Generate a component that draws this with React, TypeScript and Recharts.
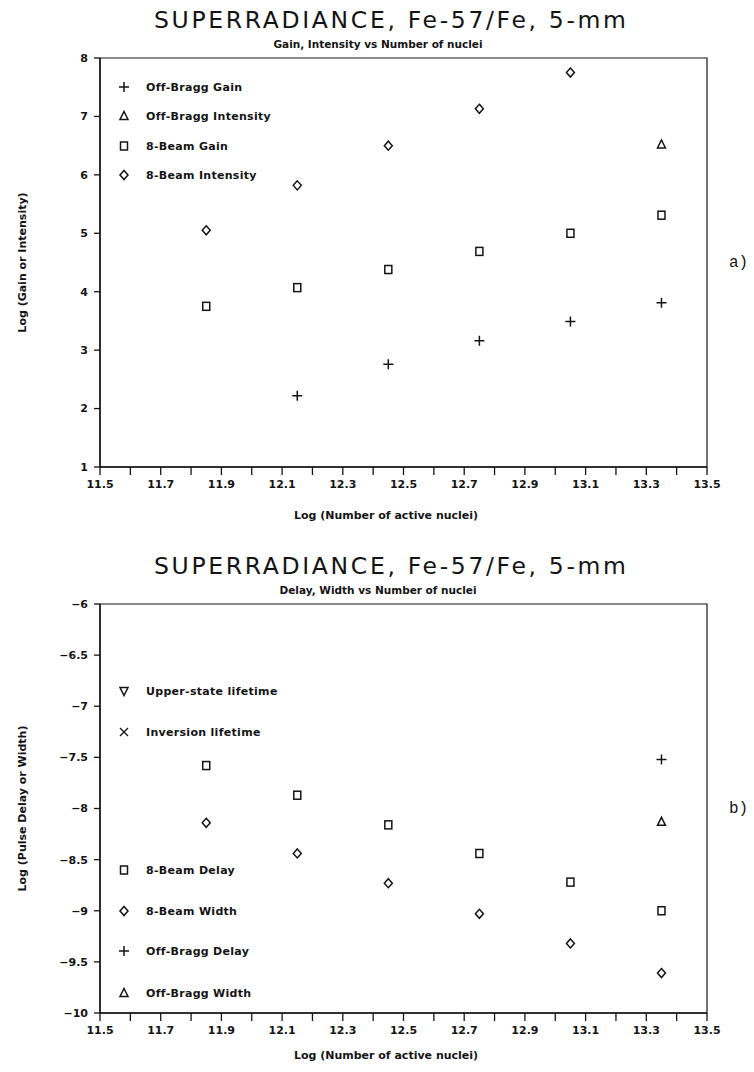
import React from "react";
import { ScatterChart, Scatter, XAxis, YAxis, ReferenceArea, Legend } from "recharts";

// x positions (log of number of active nuclei)
const nuclei = [11.85, 12.15, 12.45, 12.75, 13.05, 13.35];
const xTicks = [11.5, 11.6, 11.7, 11.8, 11.9, 12.0, 12.1, 12.2, 12.3, 12.4, 12.5, 12.6, 12.7, 12.8, 12.9, 13.0, 13.1, 13.2, 13.3, 13.4, 13.5];
const xTickLabels = ["11.5", "11.7", "11.9", "12.1", "12.3", "12.5", "12.7", "12.9", "13.1", "13.3", "13.5"];

// panel a) gain / intensity
const gainTicks = [1, 2, 3, 4, 5, 6, 7, 8];
const offBraggGain = [2.22, 2.76, 3.16, 3.49, 3.81]; // nuclei[1..5]
const offBraggIntensity = [6.52]; // nuclei[5]
const beamGain = [3.75, 4.07, 4.38, 4.69, 5.0, 5.31];
const beamIntensity = [5.05, 5.82, 6.5, 7.13, 7.75]; // nuclei[0..4]

// panel b) delay / width
const delayTicks = [-10, -9.5, -9, -8.5, -8, -7.5, -7, -6.5, -6];
const beamDelay = [-7.58, -7.87, -8.16, -8.44, -8.72, -9.0];
const beamWidth = [-8.14, -8.44, -8.73, -9.03, -9.32, -9.61];
const offBraggDelay = [-7.52]; // nuclei[5]
const offBraggWidth = [-8.13]; // nuclei[5]

const legendA = [
  { label: "Off-Bragg Gain", shape: "plus" },
  { label: "Off-Bragg Intensity", shape: "tri" },
  { label: "8-Beam Gain", shape: "square" },
  { label: "8-Beam Intensity", shape: "diamond" },
];
const legendB = [
  { label: "Upper-state lifetime", shape: "tridown" },
  { label: "Inversion lifetime", shape: "cross" },
  { label: "8-Beam Delay", shape: "square" },
  { label: "8-Beam Width", shape: "diamond" },
  { label: "Off-Bragg Delay", shape: "plus" },
  { label: "Off-Bragg Width", shape: "tri" },
];

const INK = "#141414";
const FONT = "'DejaVu Sans', sans-serif";
const W = 754;
const H = 540;
const PLOT_L = 100;
const PLOT_R = 707;
const PLOT_T = 58;
const PLOT_B = 467;
const YAXIS_W = 40;
const XAXIS_H = 30;

const pts = (xs: number[], ys: number[]) => ys.map((y, i) => ({ x: xs[i], y }));

function Mark({ kind, cx, cy }: { kind: string; cx: number; cy: number }) {
  const common = { stroke: INK, strokeWidth: 1.5, fill: "none" };
  switch (kind) {
    case "plus":
      return <path d={`M${cx - 5},${cy}H${cx + 5}M${cx},${cy - 5}V${cy + 5}`} {...common} />;
    case "cross":
      return <path d={`M${cx - 4},${cy - 4}L${cx + 4},${cy + 4}M${cx + 4},${cy - 4}L${cx - 4},${cy + 4}`} {...common} strokeWidth={1.3} />;
    case "square":
      return <rect x={cx - 3.5} y={cy - 4} width={7} height={8} {...common} />;
    case "diamond":
      return <path d={`M${cx},${cy - 4.5}L${cx + 4},${cy}L${cx},${cy + 4.5}L${cx - 4},${cy}Z`} {...common} />;
    case "tri":
      return <path d={`M${cx},${cy - 4.5}L${cx + 4},${cy + 3.5}L${cx - 4},${cy + 3.5}Z`} {...common} />;
    case "tridown":
      return <path d={`M${cx},${cy + 4.5}L${cx + 4},${cy - 3.5}L${cx - 4},${cy - 3.5}Z`} {...common} />;
    default:
      return null;
  }
}

const shapeOf = (kind: string) => (p: any) => <Mark kind={kind} cx={p.cx} cy={p.cy} />;

const XTick = (p: any) => {
  const v = Number(p.payload.value).toFixed(1);
  if (!xTickLabels.includes(v)) return null;
  return (
    <text x={p.x} y={p.y} dy="0.71em" textAnchor="middle" fontFamily={FONT} fontWeight="bold" fontSize={11} fill={INK}>
      {v}
    </text>
  );
};

type Series = { data: { x: number; y: number }[]; shape: string };

function Panel({
  top, title, subtitle, yLabel, yDomain, yTicks, yFmt, series, legend, legendRows, tag, xLabelGap,
}: {
  top: number; title: string; subtitle: string; yLabel: string; yDomain: [number, number]; yTicks: number[];
  yFmt: (v: number) => string; series: Series[]; legend: { label: string; shape: string }[]; legendRows: number[];
  tag: string; xLabelGap: number;
}) {
  return (
    <div style={{ position: "absolute", left: 0, top, width: W, height: H }}>
      <svg width={W} height={60} style={{ position: "absolute", left: 0, top: 0 }}>
        <text x={390} y={28} textAnchor="middle" fontFamily={FONT} fontSize={23.5} fill={INK} textLength={472} lengthAdjust="spacing">
          {title}
        </text>
        <text x={378} y={48} textAnchor="middle" fontFamily={FONT} fontWeight="bold" fontSize={10.5} fill={INK}>
          {subtitle}
        </text>
      </svg>
      <div style={{ position: "absolute", left: 729, top: PLOT_T + (PLOT_B - PLOT_T) * 0.48, fontFamily: "'Liberation Mono', monospace", fontSize: 16, color: INK }}>
        {tag}
      </div>
      <ScatterChart
        width={W}
        height={H}
        margin={{ top: PLOT_T, right: W - PLOT_R, left: PLOT_L - YAXIS_W, bottom: H - PLOT_B - XAXIS_H }}
        style={{ position: "absolute", left: 0, top: 0 }}
      >
        <XAxis
          type="number"
          dataKey="x"
          domain={[11.5, 13.5]}
          ticks={xTicks}
          interval={0}
          height={XAXIS_H}
          tickSize={8}
          tickMargin={5}
          tick={XTick}
          axisLine={{ stroke: INK, strokeWidth: 1.4 }}
          tickLine={{ stroke: INK, strokeWidth: 1.3 }}
          label={{
            content: (p: any) => (
              <text
                x={386}
                y={p.viewBox.y + xLabelGap}
                textAnchor="middle"
                fontFamily={FONT}
                fontWeight="bold"
                fontSize={11}
                fill={INK}
              >
                Log (Number of active nuclei)
              </text>
            ),
          }}
        />
        <YAxis
          type="number"
          dataKey="y"
          domain={yDomain}
          ticks={yTicks}
          interval={0}
          width={YAXIS_W}
          tickSize={6}
          tickMargin={6}
          tickFormatter={yFmt}
          tick={{ fontFamily: FONT, fontWeight: "bold", fontSize: 11, fill: INK }}
          axisLine={{ stroke: INK, strokeWidth: 1.4 }}
          tickLine={{ stroke: INK, strokeWidth: 1.3 }}
          label={{
            content: (p: any) => {
              const cx = 22;
              const cy = p.viewBox.y + p.viewBox.height / 2;
              return (
                <text
                  x={cx}
                  y={cy}
                  transform={`rotate(-90 ${cx} ${cy})`}
                  textAnchor="middle"
                  dominantBaseline="central"
                  fontFamily={FONT}
                  fontWeight="bold"
                  fontSize={11}
                  fill={INK}
                >
                  {yLabel}
                </text>
              );
            },
          }}
        />
        <ReferenceArea x1={11.5} x2={13.5} y1={yDomain[0]} y2={yDomain[1]} fill="none" stroke={INK} strokeWidth={1.2} />
        {series.map((s, i) => (
          <Scatter key={i} data={s.data} shape={shapeOf(s.shape)} isAnimationActive={false} />
        ))}
        <Legend
          layout="vertical"
          align="center"
          verticalAlign="middle"
          width={W}
          height={H}
          wrapperStyle={{ left: 0, top: 0, width: W, height: H, pointerEvents: "none" }}
          content={() => (
            <svg width={W} height={H} style={{ position: "absolute", left: 0, top: 0 }}>
              {legend.map((e, i) => (
                <g key={e.label}>
                  <Mark kind={e.shape} cx={124} cy={legendRows[i]} />
                  <text
                    x={146}
                    y={legendRows[i]}
                    dominantBaseline="central"
                    fontFamily={FONT}
                    fontWeight="bold"
                    fontSize={11}
                    letterSpacing={0.3}
                    fill={INK}
                  >
                    {e.label}
                  </text>
                </g>
              ))}
            </svg>
          )}
        />
      </ScatterChart>
    </div>
  );
}

const fmtMinus = (v: number) => String(v).replace("-", "\u2212");

export default function App() {
  const seriesA: Series[] = [
    { data: pts(nuclei.slice(1), offBraggGain), shape: "plus" },
    { data: pts(nuclei.slice(5), offBraggIntensity), shape: "tri" },
    { data: pts(nuclei, beamGain), shape: "square" },
    { data: pts(nuclei, beamIntensity), shape: "diamond" },
  ];
  const seriesB: Series[] = [
    { data: pts(nuclei, beamDelay), shape: "square" },
    { data: pts(nuclei, beamWidth), shape: "diamond" },
    { data: pts(nuclei.slice(5), offBraggDelay), shape: "plus" },
    { data: pts(nuclei.slice(5), offBraggWidth), shape: "tri" },
  ];
  return (
    <div style={{ position: "absolute", left: 0, top: 0, width: W, height: 1072, background: "#fff" }}>
      <Panel
        top={0}
        title="SUPERRADIANCE, Fe-57/Fe, 5-mm"
        subtitle="Gain, Intensity vs Number of nuclei"
        yLabel="Log (Gain or Intensity)"
        yDomain={[1, 8]}
        yTicks={gainTicks}
        yFmt={(v) => String(v)}
        series={seriesA}
        legend={legendA}
        legendRows={[87, 116, 146, 175]}
        tag="a)"
        xLabelGap={52}
      />
      <Panel
        top={546}
        title="SUPERRADIANCE, Fe-57/Fe, 5-mm"
        subtitle="Delay, Width vs Number of nuclei"
        yLabel="Log (Pulse Delay or Width)"
        yDomain={[-10, -6]}
        yTicks={delayTicks}
        yFmt={fmtMinus}
        series={seriesB}
        legend={legendB}
        legendRows={[145, 186, 324, 365, 405, 447]}
        tag="b)"
        xLabelGap={46}
      />
    </div>
  );
}
